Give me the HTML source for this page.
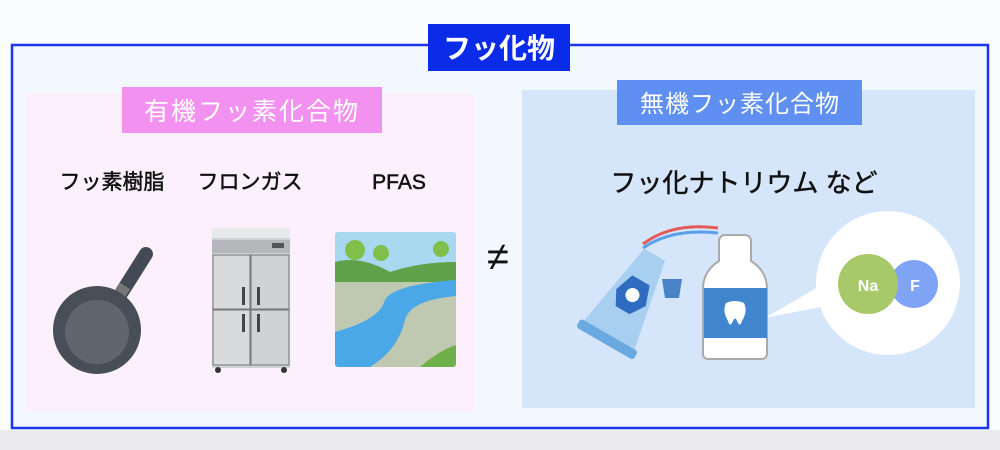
<!DOCTYPE html>
<html><head><meta charset="utf-8"><style>
body{margin:0;width:1000px;height:450px;overflow:hidden;background:#fafbfe;font-family:"Liberation Sans","Noto Sans CJK JP",sans-serif}
svg{display:block}
</style></head><body>
<svg width="1000" height="450" viewBox="0 0 1000 450" font-family="Liberation Sans, Noto Sans CJK JP, sans-serif">
<rect x="0" y="0" width="1000" height="450" fill="#fbfcfe"/>
<rect x="0" y="430" width="1000" height="20" fill="#ececee"/>
<rect x="12" y="45" width="976" height="383" fill="#f3f7fe" stroke="#1a35ee" stroke-width="2.5"/>
<rect x="27" y="93" width="448" height="319" fill="#fbf0fb"/>
<rect x="522" y="90" width="453" height="318" fill="#d6e6fa"/>
<rect x="428" y="24" width="142" height="47" fill="#0a2be8"/>
<text x="499" y="58" font-size="28" font-weight="bold" fill="#fff" text-anchor="middle">フッ化物</text>
<rect x="122" y="87" width="260" height="46" fill="#f291f0"/>
<text x="252" y="120" font-size="25" fill="#fff" text-anchor="middle" letter-spacing="2">有機フッ素化合物</text>
<rect x="617" y="80" width="245" height="45" fill="#5f8ff0"/>
<text x="740" y="112" font-size="24" fill="#fff" text-anchor="middle" letter-spacing="1">無機フッ素化合物</text>
<g stroke="#111" stroke-width="0.5">
<text x="112" y="189" font-size="21" fill="#111" text-anchor="middle">フッ素樹脂</text>
<text x="250" y="189" font-size="21" fill="#111" text-anchor="middle">フロンガス</text>
<text x="399" y="189" font-size="21" fill="#111" text-anchor="middle">PFAS</text>
<text x="744" y="192" font-size="26" fill="#111" text-anchor="middle">フッ化ナトリウム など</text>
</g>
<text x="498" y="270" font-size="40" fill="#111" text-anchor="middle">≠</text>
<!-- pan -->
<line x1="122" y1="292" x2="146" y2="254" stroke="#444a55" stroke-width="14" stroke-linecap="round"/>
<line x1="118" y1="297" x2="125" y2="286" stroke="#777" stroke-width="12"/>
<circle cx="97" cy="330" r="44" fill="#484e58"/>
<circle cx="97" cy="332" r="32" fill="#5f6670"/>
<!-- fridge -->
<rect x="212" y="228" width="78" height="140" fill="#cfd1d4"/>
<rect x="212" y="228" width="78" height="10" fill="#e8e9ea"/>
<rect x="212" y="240" width="78" height="13" fill="#b5b7ba"/>
<rect x="272" y="243" width="12" height="5" fill="#555"/>
<rect x="213" y="255" width="37" height="54" fill="#d9dadc" stroke="#777" stroke-width="1"/>
<rect x="251" y="255" width="38" height="54" fill="#d0d2d5" stroke="#777" stroke-width="1"/>
<rect x="213" y="310" width="37" height="55" fill="#d9dadc" stroke="#777" stroke-width="1"/>
<rect x="251" y="310" width="38" height="55" fill="#d0d2d5" stroke="#777" stroke-width="1"/>
<rect x="242" y="287" width="3" height="18" fill="#444"/><rect x="257" y="287" width="3" height="18" fill="#444"/>
<rect x="242" y="314" width="3" height="18" fill="#444"/><rect x="257" y="314" width="3" height="18" fill="#444"/>
<circle cx="218" cy="370" r="3" fill="#333"/><circle cx="284" cy="370" r="3" fill="#333"/>
<!-- landscape -->
<clipPath id="lc"><rect x="335" y="232" width="121" height="135" rx="3"/></clipPath>
<g clip-path="url(#lc)">
<rect x="335" y="232" width="121" height="135" fill="#bfc8b0"/>
<rect x="335" y="232" width="121" height="45" fill="#a8d8f0"/>
<path d="M335 262 Q360 255 390 272 Q420 262 456 262 L456 282 L335 282Z" fill="#5fa24a"/>
<circle cx="355" cy="250" r="10" fill="#7fbf4a"/><circle cx="381" cy="253" r="8" fill="#7fbf4a"/><circle cx="441" cy="249" r="8" fill="#7fbf4a"/>
<path d="M335 332 Q380 320 385 300 Q392 285 456 280 L456 296 Q410 300 405 320 Q398 350 370 367 L335 367Z" fill="#4aa8e8"/>
<path d="M420 367 Q440 350 456 345 L456 367Z" fill="#6fb04a"/>
</g>
<!-- toothpaste -->
<path d="M643 244 Q672 222 718 228" stroke="#e45a5a" stroke-width="3" fill="none"/>
<path d="M643 248 Q672 228 718 233" stroke="#5aa0e8" stroke-width="3" fill="none"/>
<g transform="rotate(30 625 300)">
<path d="M628 246 L640 246 L658 338 L600 338 L616 246Z" fill="#a9cff0"/>
<rect x="596" y="338" width="66" height="10" rx="3" fill="#6aa8e0"/>
<path d="M619 275 L639 275 L646 295 L636 310 L620 310 L612 295Z" fill="#2f6cc0"/>
<circle cx="629" cy="292" r="7" fill="#fff"/>
</g>
<path d="M662 279 L682 279 L679 298 L665 298Z" fill="#4a82c8"/>
<!-- bubble -->
<path d="M765 318 L830 280 L830 305Z" fill="#fff"/>
<circle cx="888" cy="283" r="72" fill="#fff"/>
<circle cx="914" cy="284" r="24" fill="#7fa3f5"/>
<circle cx="868" cy="284" r="30" fill="#a8c96a"/>
<text x="868" y="291" font-size="16" font-weight="bold" fill="#fff" text-anchor="middle">Na</text>
<text x="915" y="291" font-size="16" font-weight="bold" fill="#fff" text-anchor="middle">F</text>
<!-- bottle -->
<path d="M725 235 h20 a6 6 0 0 1 6 6 v20 q16 10 16 28 v65 a5 5 0 0 1 -5 5 h-54 a5 5 0 0 1 -5 -5 v-65 q0 -18 16 -28 v-20 a6 6 0 0 1 6 -6z" fill="#fff" stroke="#aaa" stroke-width="2"/>
<rect x="704" y="288" width="63" height="50" fill="#3f86cf"/>
<path d="M726 303 q9 -4 18 0 q4 8 -2 18 q-2 7 -5 0 q-2 -5 -4 0 q-3 7 -5 0 q-6 -10 -2 -18z" fill="#fff"/>
</svg>
</body></html>
